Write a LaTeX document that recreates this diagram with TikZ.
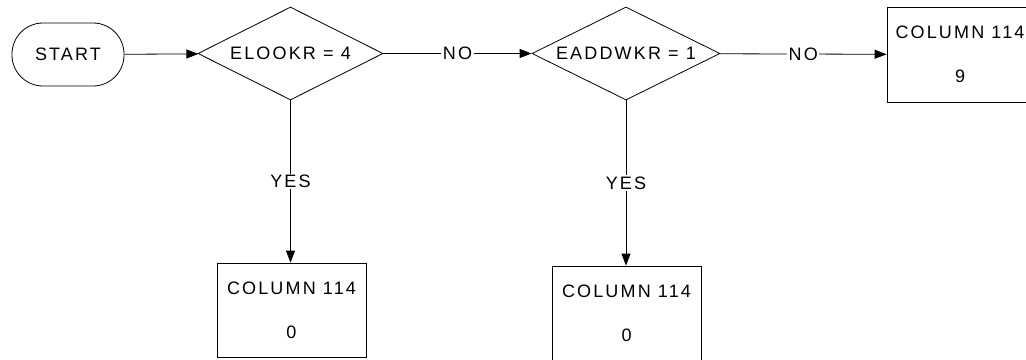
\documentclass[tikz,border=0pt]{standalone}
\usepackage{fontspec}
\setmainfont{Liberation Sans}[LetterSpace=12]
\usetikzlibrary{shapes.geometric,arrows.meta}
\begin{document}
\begin{tikzpicture}[x=1pt,y=-1pt,
  every node/.style={font=\fontsize{18}{21}\selectfont, text=black},
  termbox/.style={draw, rounded corners=31pt, minimum width=112pt, minimum height=63pt, inner sep=0pt, line width=0.8pt},
  decbox/.style={draw, diamond, aspect=2, inner sep=0pt, minimum height=93pt, line width=0.8pt},
  colbox/.style={draw, rectangle, minimum width=149pt, minimum height=94pt, inner sep=0pt, align=center, line width=0.8pt},
  flow/.style={-{Triangle[length=12pt,width=9pt]}, line width=0.8pt},
  lab/.style={fill=white, inner sep=1.5pt}
]
\useasboundingbox (0,0) rectangle (1026,359);
\node[termbox] (start) at (68,54.5) {START};
\node[decbox, minimum width=185pt] (d1) at (290.5,53.5) {ELOOKR = 4};
\node[decbox, minimum width=188pt] (d2) at (626,53.5) {EADDWKR = 1};
\node[colbox, minimum width=146pt, minimum height=95pt] (r) at (960,54.5) {COLUMN 114\\[23pt]9};
\node[colbox] (b1) at (291.5,310) {COLUMN 114\\[23pt]0};
\node[colbox] (b2) at (626.5,313) {COLUMN 114\\[23pt]0};
\draw[flow] (start) -- (d1);
\draw[flow] (d1) -- node[lab] (no1) {NO} (d2);
\draw[flow] (d2) -- node[lab] (no2) {NO} (r);
\draw[flow] (d1.south) -- node[lab] (yes1) {YES} (b1.north -| d1.south);
\draw[flow] (d2.south) -- node[lab] (yes2) {YES} (b2.north -| d2.south);
\end{tikzpicture}
\end{document}
